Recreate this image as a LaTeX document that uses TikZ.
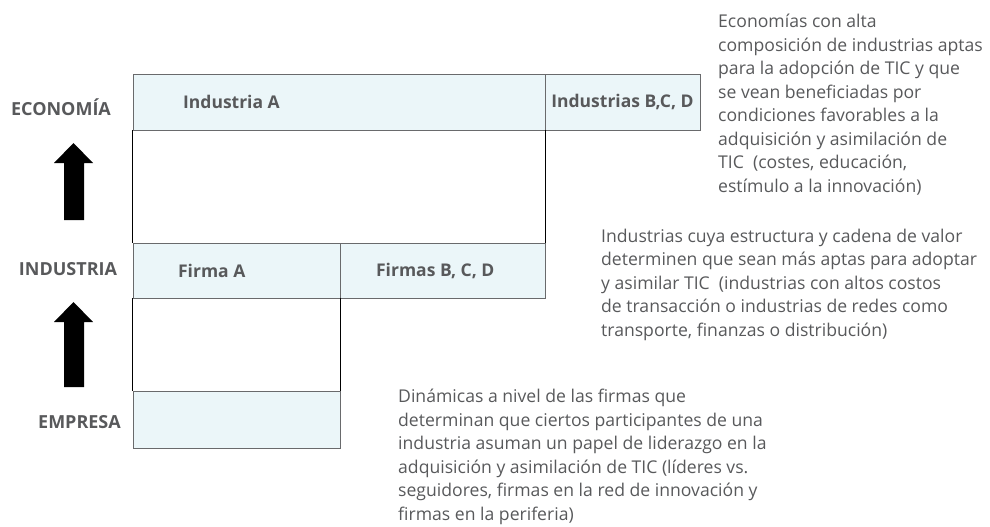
\documentclass[tikz,border=0pt]{standalone}
\usepackage{fontspec}
\setmainfont{Open Sans}
\definecolor{celda}{RGB}{235,246,249}
\definecolor{texto}{RGB}{88,89,91}
\definecolor{borde}{RGB}{105,106,108}
\begin{document}
\begin{tikzpicture}[x=1pt, y=-1pt,
  celbox/.style={draw=borde, line width=0.8pt, fill=celda, inner sep=0pt},
  nivel/.style={font=\fontsize{18}{20}\selectfont\bfseries, text=texto},
  etiq/.style={font=\fontsize{17.5}{20}\selectfont\bfseries, text=texto, anchor=west},
  nota/.style={font=\fontsize{17.6}{23.5}\selectfont, text=texto, align=left, anchor=base west, inner sep=0pt},
  flecha/.style={fill=black}]
\useasboundingbox (0,0) rectangle (990,527);
% niveles
\node[nivel] (econ) at (61,107) {ECONOMÍA};
\node[nivel] (indu) at (68,269) {INDUSTRIA};
\node[nivel] (empr) at (79.5,422) {EMPRESA};
% flechas
\fill[flecha] (64,220) -- (64,163) -- (54,163) -- (73.5,143) -- (93,163) -- (84,163) -- (84,220) -- cycle;
\fill[flecha] (64,387) -- (64,322) -- (54,322) -- (73.5,302) -- (93,322) -- (84,322) -- (84,387) -- cycle;
% economia
\node[celbox, minimum width=412pt, minimum height=56pt] (indA) at (339,102) {};
\node[celbox, minimum width=155pt, minimum height=56pt] (indBCD) at (622.5,102) {};
\node[etiq] (tIndA) at ([xshift=47pt]indA.west) {Industria A};
\node[etiq, anchor=center] (tIndBCD) at (indBCD.center) {Industrias B,C, D};
% industria
\node[celbox, minimum width=207pt, minimum height=55pt] (firmA) at (236.5,270.5) {};
\node[celbox, minimum width=205pt, minimum height=55pt] (firmBCD) at (442.5,270.5) {};
\node[etiq] (tFirmA) at ([xshift=42pt]firmA.west) {Firma A};
\node[etiq] (tFirmBCD) at ([xshift=33pt]firmBCD.west) {Firmas B, C, D};
% empresa
\node[celbox, minimum width=207pt, minimum height=57pt] (emp) at (236.5,419.5) {};
\draw[line width=0.8pt] (indA.south west) -- (firmA.north west)
  (indA.south east) -- (firmBCD.north east)
  (firmA.south west) -- (emp.north west)
  (firmA.south east) -- (emp.north east);
% notas
\node[nota] (txtEcon) at (718,192) {Economías con alta\\composición de industrias aptas\\para la adopción de TIC y que\\se vean beneficiadas por\\condiciones favorables a la\\adquisición y asimilación de\\TIC\ \ (costes, educación,\\estímulo a la innovación)};
\node[nota] (txtInd) at (601,336) {Industrias cuya estructura y cadena de valor\\determinen que sean más aptas para adoptar\\y asimilar TIC\ \ (industrias con altos costos\\de transacción o industrias de redes como\\transporte, finanzas o distribución)};
\node[nota] (txtEmp) at (398,520) {Dinámicas a nivel de las firmas que\\determinan que ciertos participantes de una\\industria asuman un papel de liderazgo en la\\adquisición y asimilación de TIC (líderes vs.\\seguidores, firmas en la red de innovación y\\firmas en la periferia)};
\end{tikzpicture}
\end{document}
